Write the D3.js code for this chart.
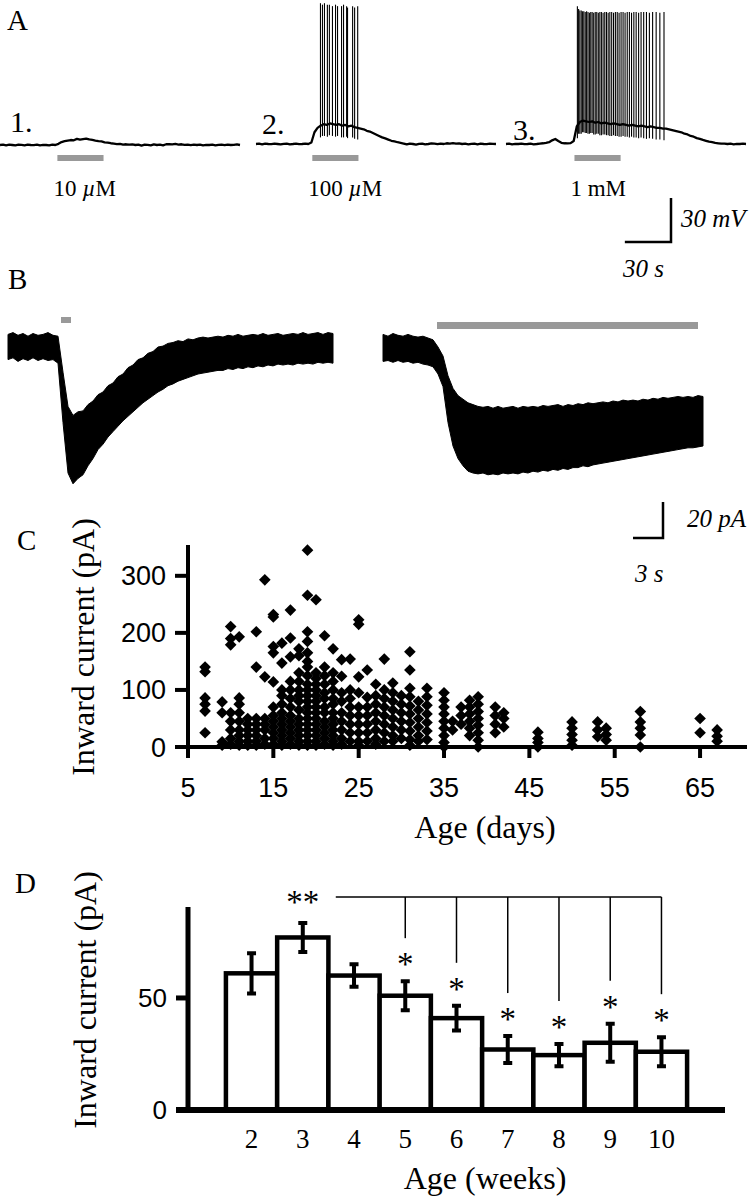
<!DOCTYPE html>
<html><head><meta charset="utf-8">
<script src="https://cdn.jsdelivr.net/npm/d3@7/dist/d3.min.js"></script>
<style>body{margin:0;background:#fff}svg{display:block}</style>
</head><body><svg id="fig" width="750" height="1200"></svg>
<script>
// ---------------- DATA ----------------
// Panel A: membrane potential (mV relative to rest), sampled every 2 s
const aTimeStep = 2;
const aDuration = 156;
const aTrace1 = [0,0.3,-0.2,0.2,0,-0.3,0.2,0.1,-0.2,0.3,0,-0.1,0.2,-0.2,0.1,0,-0.3,0.2,0,
  0.8,2.0,2.6,3.0,3.4,3.2,4.2,3.6,4.0,4.4,3.8,3.5,3.0,2.6,2.4,1.8,1.6,1.2,0.9,
  0.6,0.8,0.3,0.5,0.2,0.4,0,0.3,-0.4,0.2,0.1,-0.3,0.4,0,0.2,-0.2,0.5,0.6,0.4,0.7,0.3,0.5,0.1,0.3,-0.1,0.2,0,0.3,-0.2,0.1,0,0.2,-0.3,0.1,0.2,-0.1,0.3,0,0.1,0.4,0];
const aTrace2 = [0,0.2,-0.2,0.3,0,-0.1,0.2,0,-0.3,0.1,0.2,-0.2,0,0.3,-0.1,0,0.2,0,
  1,8,11,12.5,13.5,13,14,13.5,13,13.5,12.5,13,12,12.5,11.5,11,
  10.5,10,9,8.5,7.5,6.5,5.5,4.5,3.8,3,2.2,1.8,1.2,0.8,0.3,
  -0.3,0.2,0,-0.4,0.1,0.3,-0.2,0,0.4,0.2,-0.1,0.3,0,0.5,0.3,0.6,0.2,0.4,0,0.2,-0.3,0.1,0.3,-0.2,0.2,0,-0.1,0.3,0.1,0];
const aTrace3 = [0,0.2,-0.2,0.1,0,0.3,-0.1,0,0.2,-0.2,0,0.3,0.5,0.8,1.2,
  2.5,3.4,2.0,0.8,0.5,0.4,0.6,
  2,12,15,16,15.5,15,15.5,14.5,15,14,14.5,14,13.5,14,13.5,13,13.5,13,12.5,13,12.5,12,12.5,12,11.5,12,11.5,11,
  11,10.5,10.5,10,9.5,9,8.5,8,7,6.5,5.5,5,4,3.5,2.8,2.2,1.6,1.2,0.8,0.5,0.2,0.3,0,0.2,-0.2,0.1,0,0.2,0];
const aSpikes2T = [41.9,43.2,44.5,46.4,47.7,49.7,51.7,53.0,55.6,56.9,58.9,59.5,62.8,64.1,66.1];
const aSpikes2Peak = [96,95,96,95,95,94,95,94,94,95,94,93,94,93,94];
const aSpikes3T = [46.4,47.2,48.0,48.9,49.8,50.6,51.5,52.4,53.3,54.2,55.1,56.0,57.0,58.0,59.0,60.0,61.0,62.0,63.1,64.2,65.3,66.4,67.5,68.7,69.9,71.1,72.3,73.5,74.8,76.1,77.4,78.8,80.2,81.6,83.1,84.6,86.2,87.8,89.5,91.3,93.2,95.3,97.6,100.0,102.7];
const aSpikes3Peak = [94,92,91,91,90.5,90.5,90,90.5,90,89.5,90,90,89.5,90,90,89.5,90,90,89.5,90,90,89.5,90,90,89.5,90,90,89.5,90,90,89.5,90,90,89.5,90,90,89.5,90,90,90,89.5,90,90,89.5,90];
const aAhpDepth = 8;
const aAppStart = [37.3, 36.6, 44.5];
const aAppDur = 30;
const aNumbers = ["1.", "2.", "3."];
const aConc = [["10 ", "µ", "M"], ["100 ", "µ", "M"], ["1 mM", "", ""]];

// Panel B: inward current envelopes (pA), sampled every 0.5 s
const bStep = 0.5;
const bLeftUpper = [7,8,6.5,7.5,6,7.5,6.5,7,8,6.5,
  6,-14,-33,-38,-36,-35.5,-32,-30,-26.5,-25,
  -21.5,-20,-16.5,-15,-11.5,-10,-7,-6,-3.5,-2.5,
  0,0.5,2,2.5,3.5,3,4.5,4,5,5.5,
  5,5.5,6,5.5,6.5,6,7,6,6.5,7,
  6.5,7.5,6.5,7,7.5,6.5,7,7.5,7,8,
  7,7.5,8,7,8,7.5];
const bLeftLower = [-7,-6,-8,-6.5,-7.5,-6,-7.5,-6.5,-7.5,-7,
  -9,-42,-70,-76,-73,-71,-66,-62,-57,-54,
  -50,-47,-44,-41,-38.5,-36,-33.5,-31,-29,-27,
  -25,-23.5,-21.5,-20.5,-19,-18,-17,-16,-15,-14.5,
  -14,-13.5,-13,-13,-12,-12.5,-11.5,-12,-11,-11.5,
  -10.5,-11,-10,-10.5,-9.5,-10,-9.5,-10,-9,-9.5,
  -9,-9.5,-8.5,-9,-8.5,-9];
const bRightUpper = [7,6,7.5,6.5,6,7,6,5.5,6,5,
  4,0,-5,-16,-23,-27,-29,-31,-32,-33,
  -33.5,-33,-34,-33,-34,-33.5,-33,-34,-33,-33.5,
  -33,-33.5,-32.5,-33,-32.5,-32,-33,-32,-32.5,-31.5,
  -32,-31,-31.5,-31,-30.5,-31,-30,-30.5,-29.5,-30,
  -29.5,-30,-29,-29.5,-28.5,-29,-28,-28.5,-28,-27.5,
  -28,-27.5,-28,-27,-27.5];
const bRightLower = [-8,-7.5,-8.5,-7.5,-8.5,-8,-9,-8.5,-9.5,-10,
  -11,-15,-22,-42,-55,-62,-66,-69,-70,-70.5,
  -70,-71,-70.5,-71,-70,-70.5,-70,-70.5,-69.5,-70,
  -69,-69.5,-68.5,-69,-68,-68.5,-67.5,-68,-67,-67,
  -66,-66.5,-65.5,-65,-64.5,-64,-63.5,-63,-62.5,-62,
  -61.5,-61,-60.5,-60,-59.5,-59,-58.5,-58,-57.5,-57,
  -56.5,-56,-56,-55.5,-55];
const bAppLeft = [5.3, 6.3];
const bAppRight = [5.4, 31.5];

// Panel C: inward current (pA) vs age (days)
const cDays = [7,9,10,11,12,13,14,15,16,17,18,19,20,21,22,23,24,25,26,27,28,29,30,31,32,33,35,36,37,38,39,41,42,46,50,53,54,58,65,67];
const cValues = [
 [140,132,86,75,63,25],
 [79,60,9,3],
 [211,190,179,60,45,30,15,5],
 [193,86,75,60,45,30,20,10,3],
 [50,40,30,20,10,3],
 [202,140,50,40,30,20,10,3],
 [293,123,50,40,30,15,5],
 [232,228,176,165,114,70,55,45,35,25,15,5],
 [182,147,100,90,75,60,50,40,30,20,10,3],
 [240,191,158,115,100,85,70,55,45,35,25,15,5],
 [172,160,130,115,100,90,80,65,50,40,30,20,10,3],
 [345,266,202,185,165,150,140,125,110,100,90,80,70,60,50,40,30,20,10,3],
 [258,130,120,110,100,90,80,70,60,50,40,30,20,10,3],
 [195,140,125,110,95,85,70,60,45,35,25,15,5],
 [172,130,115,100,85,75,60,50,40,30,20,10,3],
 [153,124,95,80,60,45,30,15,5],
 [154,100,85,70,55,40,25,10],
 [223,215,123,95,70,55,40,25,10,3],
 [135,87,70,55,40,25,10],
 [110,90,75,60,45,30,15,5],
 [154,100,85,70,55,40,25,10],
 [112,95,80,65,50,35,20,10],
 [90,75,60,45,30,15],
 [167,135,103,88,72,58,43,28,13,3],
 [80,65,50,35,20,10],
 [103,88,73,58,43,28,13],
 [95,82,70,58,45,33,20,8,0],
 [45,30],
 [70,55,40],
 [82,70,58,45,33,20],
 [88,75,62,50,38,25,12,0],
 [70,55,40,25],
 [60,50,35],
 [26,15,8,0],
 [44,33,22,12,3],
 [44,30,18],
 [33,22,12],
 [62,44,33,21,0],
 [50,25],
 [30,19,10]
];
const cYTicks = [0,100,200,300];
const cXTicks = [5,15,25,35,45,55,65];

// Panel D: mean inward current per week (pA) with SEM
const dWeeks = ["2","3","4","5","6","7","8","9","10"];
const dMeans = [61,77,60,51,41,27,24.5,30,26];
const dSem = [9,6.5,5,6.5,5.5,6,5,8.5,6.5];
const dYTicks = [0,50];
const dSigRef = "3";
const dSigWeeks = ["5","6","7","8","9","10"];

// ---------------- DRAWING ----------------
const SERIF = "'Liberation Serif','Times New Roman',serif";
const SANS = "'Liberation Sans',Arial,sans-serif";
const svg = d3.select("#fig");

function txt(x, y, s, size, opts = {}) {
  return svg.append("text").attr("x", x).attr("y", y).text(s)
    .attr("font-family", opts.family || SERIF).attr("font-size", size)
    .attr("font-style", opts.italic ? "italic" : null)
    .attr("text-anchor", opts.anchor || "start").attr("fill", "#000");
}

// panel letters
[["A",7,30],["B",8,289],["C",17,550],["D",15,893]].forEach(([s,x,y]) => txt(x, y, s, 29));

// ---- Panel A ----
const aX0 = [0, 256, 506];
const aBase = [145, 144, 144];
const aTraces = [aTrace1, aTrace2, aTrace3];
const aSpikes = [null, [aSpikes2T, aSpikes2Peak], [aSpikes3T, aSpikes3Peak]];
const aNumPos = [[10,132],[262,134],[513,140]];
let aScaleX, aScaleY;
aTraces.forEach((tr, i) => {
  const x = d3.scaleLinear().domain([0, aDuration]).range([aX0[i], aX0[i] + 240]);
  const y = d3.scaleLinear().domain([0, 30]).range([aBase[i], aBase[i] - 44]);
  if (i === 2) { aScaleX = x; aScaleY = y; }
  const line = d3.line().x((d, j) => x(j * aTimeStep)).y(d => y(d));
  svg.append("path").attr("d", line(tr)).attr("fill", "none")
    .attr("stroke", "#000").attr("stroke-width", 2.3).attr("stroke-linejoin", "round");
  if (aSpikes[i]) {
    const [ts, ps] = aSpikes[i];
    svg.append("g").selectAll("line").data(ts).join("line")
      .attr("x1", d => x(d)).attr("x2", d => x(d))
      .attr("y1", (d, k) => y(ps[k]))
      .attr("y2", d => y(tr[Math.round(d / aTimeStep)] - aAhpDepth))
      .attr("stroke", "#000").attr("stroke-width", 1.1);
  }
  svg.append("rect").attr("x", x(aAppStart[i])).attr("y", 155)
    .attr("width", x(aAppStart[i] + aAppDur) - x(aAppStart[i])).attr("height", 6).attr("fill", "#999");
  txt(aNumPos[i][0], aNumPos[i][1], aNumbers[i], 30);
  const t = svg.append("text").attr("x", x(aAppStart[i]) - 4).attr("y", 196)
    .attr("font-family", SERIF).attr("font-size", 23);
  t.append("tspan").text(aConc[i][0]);
  if (aConc[i][1]) t.append("tspan").attr("font-style", "italic").text(aConc[i][1]);
  if (aConc[i][2]) t.append("tspan").text(aConc[i][2]);
});
// scale bar A (30 mV, 30 s)
{
  const xr = 671, yb = 242;
  const h = aScaleY(0) - aScaleY(30);
  const w = aScaleX(30) - aScaleX(0);
  svg.append("path").attr("d", `M${xr - w},${yb}H${xr}V${yb - h}`)
    .attr("fill", "none").attr("stroke", "#000").attr("stroke-width", 2.5);
  txt(681, 227, "30 mV", 25, {italic: true});
  txt(623, 277, "30 s", 25, {italic: true});
}

// ---- Panel B ----
const bY = d3.scaleLinear().domain([0, 20]).range([347, 311]);
function drawB(x0, upper, lower, app, appY, appH) {
  const x = d3.scaleLinear().domain([0, 1]).range([x0, x0 + 10]);
  const area = d3.area().x((d, j) => x(j * bStep)).y0((d, j) => bY(lower[j])).y1(d => bY(d));
  svg.append("path").attr("d", area(upper)).attr("fill", "#000")
    .attr("stroke", "#000").attr("stroke-width", 1).attr("stroke-linejoin", "round");
  svg.append("rect").attr("x", x(app[0])).attr("y", appY).attr("width", x(app[1]) - x(app[0]))
    .attr("height", appH).attr("fill", "#999");
  return x;
}
const bxL = drawB(8, bLeftUpper, bLeftLower, bAppLeft, 317, 6);
drawB(383, bRightUpper, bRightLower, bAppRight, 322, 7);
{
  const xr = 663, yb = 538;
  const h = bY(0) - bY(20);
  const w = bxL(3) - bxL(0);
  svg.append("path").attr("d", `M${xr - w},${yb}H${xr}V${yb - h}`)
    .attr("fill", "none").attr("stroke", "#000").attr("stroke-width", 2.5);
  txt(687, 527, "20 pA", 25, {italic: true});
  txt(635, 582, "3 s", 25, {italic: true});
}

// ---- Panel C ----
const cx = d3.scaleLinear().domain([5, 70.5]).range([188, 747]);
const cy = d3.scaleLinear().domain([0, 354]).range([747, 545]);
const cPts = [];
cDays.forEach((d, i) => cValues[i].forEach(v => cPts.push([d, v])));
const diamond = d3.symbol(d3.symbolSquare, 68)();
svg.append("g").selectAll("path").data(cPts).join("path")
  .attr("d", diamond)
  .attr("transform", d => `translate(${cx(d[0])},${cy(d[1])}) rotate(45)`)
  .attr("fill", "#000");
// axes
svg.append("line").attr("x1", 188).attr("x2", 188).attr("y1", cy(354)).attr("y2", 758)
  .attr("stroke", "#000").attr("stroke-width", 4);
svg.append("line").attr("x1", 186).attr("x2", cx(70.5)).attr("y1", cy(0)).attr("y2", cy(0))
  .attr("stroke", "#000").attr("stroke-width", 4);
cYTicks.forEach(v => {
  svg.append("line").attr("x1", 175).attr("x2", 188).attr("y1", cy(v)).attr("y2", cy(v))
    .attr("stroke", "#000").attr("stroke-width", 4);
  txt(166, cy(v) + 9.5, String(v), 27, {family: SANS, anchor: "end"});
});
cXTicks.forEach(v => {
  svg.append("line").attr("x1", cx(v)).attr("x2", cx(v)).attr("y1", cy(0)).attr("y2", 758)
    .attr("stroke", "#000").attr("stroke-width", 4);
  txt(cx(v), 797, String(v), 27, {family: SANS, anchor: "middle"});
});
txt(485, 838, "Age (days)", 32, {anchor: "middle"});
svg.append("text").attr("transform", "translate(94,647) rotate(-90)").attr("text-anchor", "middle")
  .attr("font-family", SERIF).attr("font-size", 32).text("Inward current (pA)");

// ---- Panel D ----
const dx = d3.scaleBand().domain(dWeeks).range([188, 725]).paddingInner(0).paddingOuter(0.74);
const dy = d3.scaleLinear().domain([0, 90.6]).range([1110, 907]);
const bw = dx.bandwidth();
svg.append("g").selectAll("rect").data(dWeeks).join("rect")
  .attr("x", d => dx(d)).attr("width", bw)
  .attr("y", (d, i) => dy(dMeans[i])).attr("height", (d, i) => dy(0) - dy(dMeans[i]))
  .attr("fill", "#fff").attr("stroke", "#000").attr("stroke-width", 4.5);
dWeeks.forEach((w, i) => {
  const c = dx(w) + bw / 2;
  const top = dy(dMeans[i] + dSem[i]), bot = dy(dMeans[i] - dSem[i]);
  svg.append("path").attr("d", `M${c - 4.5},${top}H${c + 4.5}M${c},${top}V${bot}M${c - 4.5},${bot}H${c + 4.5}`)
    .attr("stroke", "#000").attr("stroke-width", 4).attr("fill", "none");
  txt(c, 1148, w, 27, {anchor: "middle"});
});
// axes D
svg.append("line").attr("x1", 188).attr("x2", 188).attr("y1", dy(90.6)).attr("y2", 1113)
  .attr("stroke", "#000").attr("stroke-width", 5);
svg.append("line").attr("x1", 176).attr("x2", 725).attr("y1", dy(0)).attr("y2", dy(0))
  .attr("stroke", "#000").attr("stroke-width", 6);
dYTicks.forEach(v => {
  svg.append("line").attr("x1", 176).attr("x2", 188).attr("y1", dy(v)).attr("y2", dy(v))
    .attr("stroke", "#000").attr("stroke-width", v === 0 ? 6 : 5);
  txt(167, dy(v) + 9, String(v), 26, {family: SANS, anchor: "end"});
});
// significance
{
  const cRef = dx(dSigRef) + bw / 2;
  const lineY = 897;
  const cLast = dx(dSigWeeks[dSigWeeks.length - 1]) + bw / 2;
  svg.append("line").attr("x1", cRef + 33).attr("x2", cLast).attr("y1", lineY).attr("y2", lineY)
    .attr("stroke", "#000").attr("stroke-width", 1.5);
  txt(cRef, lineY + 16, "**", 33, {anchor: "middle"});
  dSigWeeks.forEach(w => {
    const i = dWeeks.indexOf(w);
    const c = dx(w) + bw / 2;
    const starC = dy(dMeans[i] + dSem[i]) - 22;
    svg.append("line").attr("x1", c).attr("x2", c).attr("y1", lineY).attr("y2", starC - 21)
      .attr("stroke", "#000").attr("stroke-width", 1.5);
    txt(c, starC + 16, "*", 33, {anchor: "middle"});
  });
}
txt(485, 1189, "Age (weeks)", 32, {anchor: "middle"});
svg.append("text").attr("transform", "translate(96,1000) rotate(-90)").attr("text-anchor", "middle")
  .attr("font-family", SERIF).attr("font-size", 32).text("Inward current (pA)");
</script></body></html>
